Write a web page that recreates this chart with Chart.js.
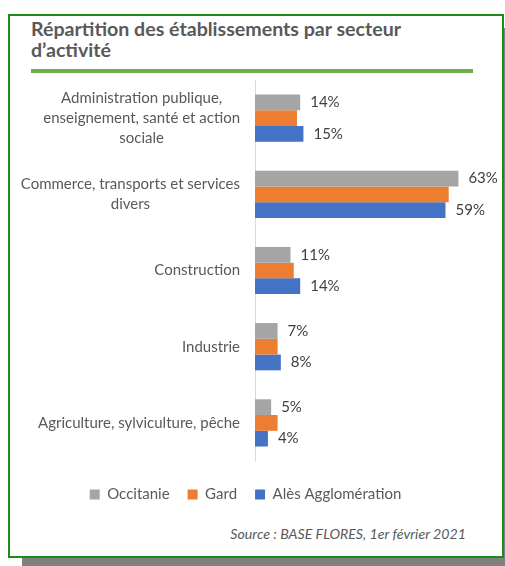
<!DOCTYPE html>
<html>
<head>
<meta charset="utf-8">
<script src="https://cdn.jsdelivr.net/npm/chart.js@4/dist/chart.umd.min.js"></script>
<style>
  body { margin: 0; width: 505px; height: 566px; background: #fff; position: relative; overflow: hidden; font-family: Lato, sans-serif; }
  #shadow { position: absolute; left: 22px; top: 28px; width: 483px; height: 538px; background: #808080; }
  #frame { position: absolute; left: 8px; top: 14px; width: 492px; height: 540px; border: 2px solid #1a8c1a; background: #fff; }
  #title { position: absolute; left: 31px; top: 18px; width: 445px; font-size: 19.6px; font-weight: 700; line-height: 21px; color: #595959; }
  #rule { position: absolute; left: 31px; top: 69px; width: 442px; height: 4px; background: #70AD47; }
  #wrap { position: absolute; left: 10px; top: 76px; width: 490px; height: 440px; }
  #source { position: absolute; right: 39px; top: 525px; font-size: 14.2px; font-style: italic; color: #595959; }
</style>
</head>
<body>
<div id="shadow"></div>
<div id="frame"></div>
<div id="title">Répartition des établissements par secteur d’activité</div>
<div id="rule"></div>
<div id="wrap"><canvas id="chart"></canvas></div>
<div id="source">Source : BASE FLORES, 1er février 2021</div>
<script>
// DATA
const sectors = [
    ['Administration publique,', 'enseignement, santé et action', 'sociale'],
    ['Commerce, transports et services', 'divers'],
    ['Construction'],
    ['Industrie'],
    ['Agriculture, sylviculture, pêche'],
]
const occitanie = [14, 63, 11, 7, 5]
const gard = [13, 60, 12, 7, 7]
const ales = [15, 59, 14, 8, 4]
const seriesNames = ['Occitanie', 'Gard', 'Alès Agglomération']
const colors = ['#A5A5A5', '#ED7D31', '#4472C4']

const font = 'Lato, sans-serif'

// category labels: each block right-aligned to the axis, lines centered inside it
const sectorLabels = {
    id: 'sectorLabels',
    afterDraw(chart) {
        const {ctx, chartArea, scales: {y}} = chart
        ctx.save()
        ctx.font = '15px ' + font
        ctx.fillStyle = '#595959'
        ctx.textAlign = 'center'
        ctx.textBaseline = 'middle'
        const lh = 20
        sectors.forEach((lines, i) => {
            const cy = y.getPixelForTick(i)
            const w = Math.max(...lines.map(l => ctx.measureText(l).width))
            const cx = chartArea.left - 15 - w / 2
            lines.forEach((l, j) => ctx.fillText(l, cx, cy + (j - (lines.length - 1) / 2) * lh))
        })
        ctx.restore()
    }
}

// value labels, only on Occitanie and Alès
const valueLabels = {
    id: 'valueLabels',
    afterDatasetsDraw(chart) {
        const {ctx} = chart
        ctx.save()
        ctx.font = '15px ' + font
        ctx.fillStyle = '#404040'
        ctx.textAlign = 'left'
        ctx.textBaseline = 'middle'
        ;[0, 2].forEach(di => {
            chart.getDatasetMeta(di).data.forEach((bar, i) => {
                ctx.fillText(chart.data.datasets[di].data[i] + '%', bar.x + 10, bar.y)
            })
        })
        ctx.restore()
    }
}

new Chart(document.getElementById('chart'), {
    type: 'bar',
    data: {
        labels: sectors,
        datasets: [occitanie, gard, ales].map((d, i) => ({
            label: seriesNames[i],
            data: d,
            backgroundColor: colors[i],
            categoryPercentage: 0.62,
            barPercentage: 1,
        }))
    },
    options: {
        indexAxis: 'y',
        responsive: true,
        maintainAspectRatio: false,
        animation: false,
        layout: { padding: { top: 4, right: 19, bottom: 4 } },
        scales: {
            x: {
                min: 0, max: 70,
                grid: { display: false },
                border: { display: false },
                ticks: { display: false },
                afterFit: s => { s.height = 8 },
            },
            y: {
                grid: { display: false },
                border: { display: true, color: '#D9D9D9' },
                ticks: { display: false },
                afterFit: s => { s.width = 245 },
            }
        },
        plugins: {
            tooltip: { enabled: false },
            legend: {
                position: 'bottom',
                labels: { boxWidth: 10, boxHeight: 10, padding: 18, color: '#595959', font: { family: font, size: 15 } }
            }
        }
    },
    plugins: [sectorLabels, valueLabels]
})
</script>
</body>
</html>
